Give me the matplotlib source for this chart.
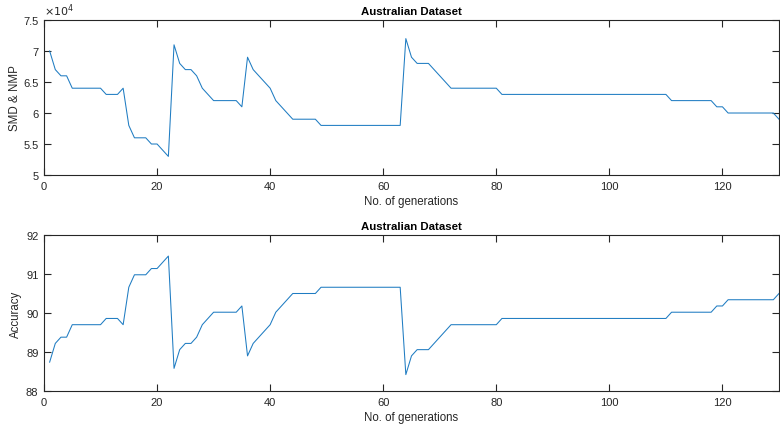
import matplotlib
matplotlib.use("Agg")
import matplotlib.pyplot as plt
from matplotlib.ticker import FuncFormatter

plt.rcParams['font.family'] = ['Liberation Sans', 'DejaVu Sans']

# generations 1..130
gens = list(range(1, 131))

# SMD & NMP (in units of 1e4)
smd = [7.0, 6.7, 6.6, 6.6, 6.4, 6.4, 6.4, 6.4, 6.4, 6.4,
       6.3, 6.3, 6.3, 6.4, 5.8, 5.6, 5.6, 5.6, 5.5, 5.5,
       5.4, 5.3, 7.1, 6.8, 6.7, 6.7, 6.6, 6.4, 6.3, 6.2,
       6.2, 6.2, 6.2, 6.2, 6.1, 6.9, 6.7, 6.6, 6.5, 6.4,
       6.2, 6.1, 6.0, 5.9, 5.9, 5.9, 5.9, 5.9, 5.8, 5.8,
       5.8, 5.8, 5.8, 5.8, 5.8, 5.8, 5.8, 5.8, 5.8, 5.8,
       5.8, 5.8, 5.8, 7.2, 6.9, 6.8, 6.8, 6.8, 6.7, 6.6,
       6.5, 6.4, 6.4, 6.4, 6.4, 6.4, 6.4, 6.4, 6.4, 6.4,
       6.3, 6.3, 6.3, 6.3, 6.3, 6.3, 6.3, 6.3, 6.3, 6.3,
       6.3, 6.3, 6.3, 6.3, 6.3, 6.3, 6.3, 6.3, 6.3, 6.3,
       6.3, 6.3, 6.3, 6.3, 6.3, 6.3, 6.3, 6.3, 6.3, 6.3,
       6.2, 6.2, 6.2, 6.2, 6.2, 6.2, 6.2, 6.2, 6.1, 6.1,
       6.0, 6.0, 6.0, 6.0, 6.0, 6.0, 6.0, 6.0, 6.0, 5.9]
smd = [v * 1e4 for v in smd]

# accuracy (%)
acc = [88.74, 89.22, 89.38, 89.38, 89.70, 89.70, 89.70, 89.70, 89.70, 89.70,
       89.86, 89.86, 89.86, 89.70, 90.66, 90.98, 90.98, 90.98, 91.14, 91.14,
       91.30, 91.46, 88.58, 89.06, 89.22, 89.22, 89.38, 89.70, 89.86, 90.02,
       90.02, 90.02, 90.02, 90.02, 90.18, 88.90, 89.22, 89.38, 89.54, 89.70,
       90.02, 90.18, 90.34, 90.50, 90.50, 90.50, 90.50, 90.50, 90.66, 90.66,
       90.66, 90.66, 90.66, 90.66, 90.66, 90.66, 90.66, 90.66, 90.66, 90.66,
       90.66, 90.66, 90.66, 88.42, 88.90, 89.06, 89.06, 89.06, 89.22, 89.38,
       89.54, 89.70, 89.70, 89.70, 89.70, 89.70, 89.70, 89.70, 89.70, 89.70,
       89.86, 89.86, 89.86, 89.86, 89.86, 89.86, 89.86, 89.86, 89.86, 89.86,
       89.86, 89.86, 89.86, 89.86, 89.86, 89.86, 89.86, 89.86, 89.86, 89.86,
       89.86, 89.86, 89.86, 89.86, 89.86, 89.86, 89.86, 89.86, 89.86, 89.86,
       90.02, 90.02, 90.02, 90.02, 90.02, 90.02, 90.02, 90.02, 90.18, 90.18,
       90.34, 90.34, 90.34, 90.34, 90.34, 90.34, 90.34, 90.34, 90.34, 90.50]

xticks = [0, 20, 40, 60, 80, 100, 120]
smd_ticks = [50000, 55000, 60000, 65000, 70000, 75000]
acc_ticks = [88, 89, 90, 91, 92]

line_col = '#1f7cc2'
ax_col = '#262626'

fig = plt.figure(figsize=(7.8, 4.27), dpi=100)
ax1 = fig.add_axes([0.0564, 0.5878, 0.9423, 0.363])
ax2 = fig.add_axes([0.0564, 0.0820, 0.9423, 0.3653])


def style(ax):
    for s in ax.spines.values():
        s.set_color(ax_col)
        s.set_linewidth(0.8)
    ax.tick_params(direction='in', length=5, width=0.8, color=ax_col,
                   labelcolor=ax_col, labelsize=8, top=True, right=True, pad=4)
    ax.set_xlim(0, 130)
    ax.set_xticks(xticks)
    ax.set_xlabel('No. of generations', fontsize=8.3, color=ax_col, labelpad=3)
    ax.set_title('Australian Dataset', fontsize=8.2, fontweight='bold', color='black', pad=4)


ax1.plot(gens, smd, color=line_col, linewidth=0.75)
style(ax1)
ax1.set_ylim(50000, 75000)
ax1.set_yticks(smd_ticks)
ax1.yaxis.set_major_formatter(FuncFormatter(lambda v, p: ('%g' % (v / 1e4))))
ax1.set_ylabel('SMD & NMP', fontsize=8.3, color=ax_col)
ax1.yaxis.set_label_coords(-0.031, 0.5)
ax1.text(0.0, 1.015, r'$\times10^{4}$', transform=ax1.transAxes, fontsize=8,
         color=ax_col, ha='left', va='bottom')

ax2.plot(gens, acc, color=line_col, linewidth=0.75)
style(ax2)
ax2.set_ylim(88, 92)
ax2.set_yticks(acc_ticks)
ax2.set_ylabel('Accuracy', fontsize=8.3, color=ax_col)
ax2.yaxis.set_label_coords(-0.030, 0.5)

fig.savefig('out.png', dpi=100)
